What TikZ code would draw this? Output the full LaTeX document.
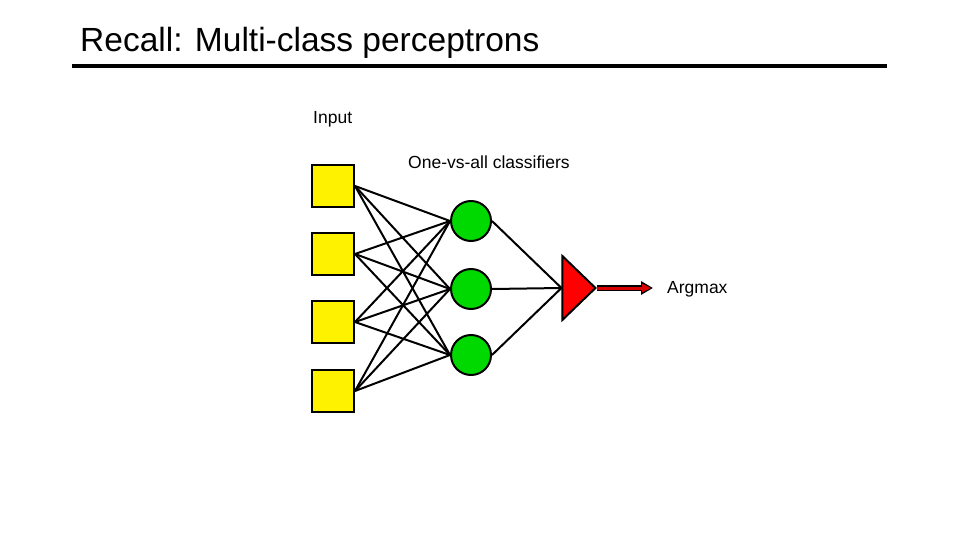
\documentclass[tikz,border=0pt]{standalone}
\usepackage{fontspec}
\setmainfont{Liberation Sans}
\usetikzlibrary{shapes.geometric,arrows.meta}
\begin{document}
\begin{tikzpicture}[x=1pt,y=-1pt,
  inp/.style={draw=black,line width=2pt,fill=yellow,minimum size=42pt,inner sep=0pt},
  cls/.style={draw=black,line width=2pt,fill=green!85!black,circle,minimum size=40pt,inner sep=0pt},
  edge/.style={line width=2pt},
  lbl/.style={font=\fontsize{17.5}{20}\selectfont,anchor=west,inner sep=0pt}]
\useasboundingbox (0,0) rectangle (960,540);
\node[anchor=base west,inner sep=0pt,font=\fontsize{33.5}{38}\selectfont] (title) at (80,52) {Recall: Multi-class perceptrons};
\coordinate (r1) at (72,66); \coordinate (r2) at (887,66);
\draw[line width=3.5pt] (r1) -- (r2);
\node[lbl] (tin) at (313,119) {Input};
\node[lbl] (tova) at (408,162) {One-vs-all classifiers};
\node[lbl] (targ) at (667,289) {Argmax};
\foreach \i/\y in {1/186,2/254,3/322,4/391} \node[inp] (x\i) at (333,\y) {};
\foreach \j/\y in {1/221,2/289,3/355} \node[cls] (c\j) at (471,\y) {};
\node[draw=black,line width=2pt,fill=red,isosceles triangle,isosceles triangle apex angle=88,minimum height=33pt,inner sep=0pt] (t) at (576,288) {};
\foreach \i in {1,...,4} \foreach \j in {1,2,3} \draw[edge] (x\i.east) -- (c\j.west);
\foreach \j in {1,2,3} \draw[edge] (c\j.east) -- (t.west);
\coordinate (ae) at (653,288);
\draw[line width=5.5pt,-{Triangle[length=12pt,width=13pt]}] (t.apex) -- (ae);
\draw[line width=3pt,red!85!black,-{Triangle[length=9pt,width=8pt]}] (t.apex) -- ([xshift=-1.8pt]ae);
\end{tikzpicture}
\end{document}
